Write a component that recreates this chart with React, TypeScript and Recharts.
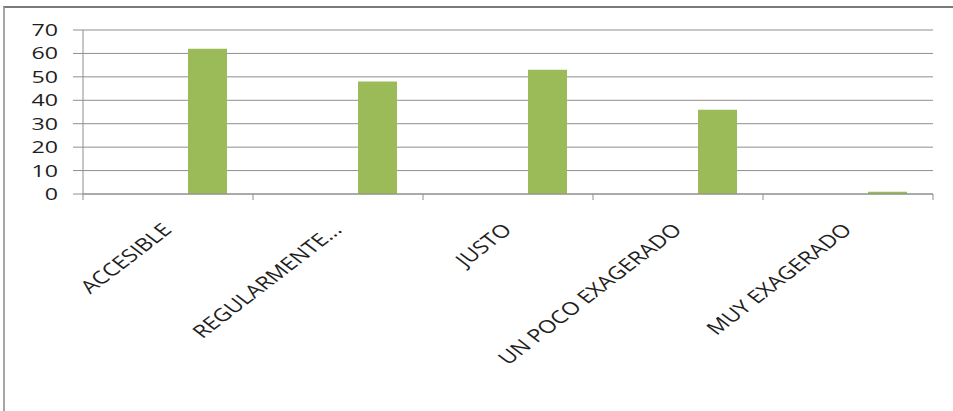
import { BarChart, Bar, XAxis, YAxis, CartesianGrid } from 'recharts'

const categories = ['ACCESIBLE', 'REGULARMENTE...', 'JUSTO', 'UN POCO EXAGERADO', 'MUY EXAGERADO']
// two leading series are empty in the sheet, only the third one carries values
const serie1 = [null, null, null, null, null]
const serie2 = [null, null, null, null, null]
const serie3 = [62, 48, 53, 36, 1]
const yTicks = [0, 10, 20, 30, 40, 50, 60, 70]

const chartData = categories.map((name, i) => ({
  name,
  serie1: serie1[i],
  serie2: serie2[i],
  serie3: serie3[i],
}))

const STRETCH = 1.3
const GRID = '#8e8e8e'
const TEXT = '#1e1e1e'
const FONT = '"Open Sans", "Liberation Sans", sans-serif'

function CategoryTick(props: any) {
  const { x, y, payload, index } = props
  const half = payload.offset || 0
  const last = index === categories.length - 1
  return (
    <g>
      <line x1={x - half} y1={y} x2={x - half} y2={y + 6} stroke={GRID} />
      {last && <line x1={x + half} y1={y} x2={x + half} y2={y + 6} stroke={GRID} />}
      <text
        transform={`translate(${x + 5},${y + 37}) scale(${STRETCH},1) rotate(-45)`}
        textAnchor="end"
        fill={TEXT}
        fontSize={18}
        fontFamily={FONT}
      >
        {payload.value}
      </text>
    </g>
  )
}

function ValueTick(props: any) {
  const { x, y, payload } = props
  return (
    <text
      transform={`translate(${x},${y + 6}) scale(1.45,1)`}
      textAnchor="end"
      fill={TEXT}
      fontSize={16}
      fontFamily={FONT}
    >
      {payload.value}
    </text>
  )
}

export default function App() {
  return (
    <div style={{ position: 'absolute', left: 0, top: 0, width: 953, height: 411, overflow: 'hidden', background: '#fff' }}>
      <div style={{ position: 'absolute', left: 0, top: 0 }}>
        <BarChart
          width={953}
          height={411}
          data={chartData}
          margin={{ top: 30, right: 20, left: 0, bottom: 0 }}
          barGap={0}
          barSize={39}
        >
          <CartesianGrid vertical={false} stroke={GRID} />
          <XAxis
            dataKey="name"
            height={217}
            interval={0}
            axisLine={{ stroke: GRID }}
            tickLine={false}
            tickSize={0}
            tickMargin={0}
            tick={<CategoryTick />}
          />
          <YAxis
            type="number"
            domain={[0, 70]}
            ticks={yTicks}
            width={83}
            axisLine={{ stroke: GRID }}
            tickLine={{ stroke: GRID }}
            tickSize={10}
            tickMargin={15}
            tick={<ValueTick />}
          />
          <Bar dataKey="serie1" fill="#4f81bd" isAnimationActive={false} />
          <Bar dataKey="serie2" fill="#c0504d" isAnimationActive={false} />
          <Bar dataKey="serie3" fill="#9bbb59" isAnimationActive={false} />
        </BarChart>
      </div>
      {/* chart frame: only the top and left edges fall inside the view */}
      <div
        style={{
          position: 'absolute',
          left: 3,
          top: 6,
          width: 960,
          height: 420,
          borderTop: '2px solid #7a7a7a',
          borderLeft: '2px solid #a6a6a6',
          pointerEvents: 'none',
        }}
      />
    </div>
  )
}
